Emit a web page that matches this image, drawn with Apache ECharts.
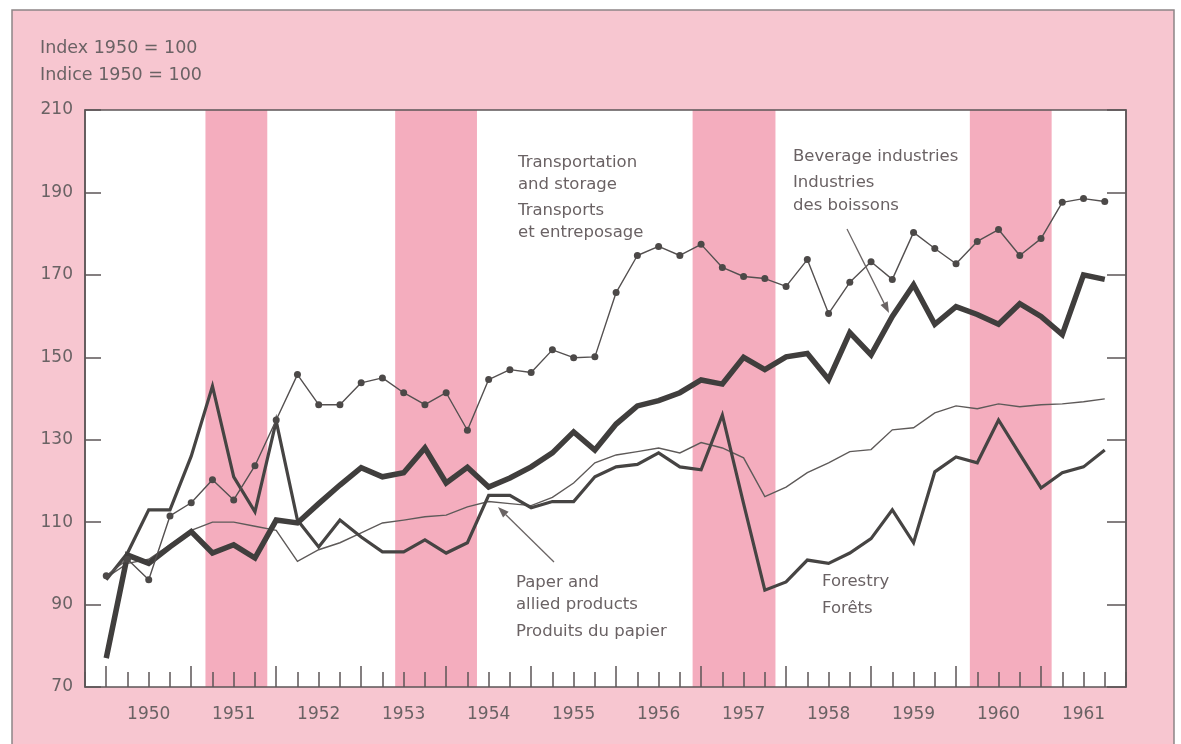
<!DOCTYPE html>
<html>
<head>
<meta charset="utf-8">
<script src="https://cdn.jsdelivr.net/npm/echarts@6/dist/echarts.min.js"></script>
<style>html,body{margin:0;padding:0;background:#fff}#c{width:1181px;height:744px}</style>
</head>
<body>
<div id="c"></div>
<script>
// ---- data (quarterly, 1950 Q1 .. 1961 Q4) ----
const years = [1950,1951,1952,1953,1954,1955,1956,1957,1958,1959,1960,1961];
const yTicks = [70,90,110,130,150,170,190,210];
const transport = [97,101,96,111.5,114.7,120.3,115.4,123.7,134.8,145.8,138.5,138.5,143.8,145,141.4,138.5,141.4,132.3,144.6,147,146.3,151.8,149.9,150.1,165.7,174.7,176.9,174.7,177.4,171.8,169.6,169.1,167.2,173.7,160.6,168.2,173.2,168.9,180.3,176.4,172.7,178.1,181,174.7,178.8,187.6,188.5,187.8];
const beverage = [77,102,100,104,107.7,102.5,104.5,101.3,110.5,109.8,114.5,119,123.2,121,122,128,119.5,123.3,118.5,120.7,123.4,126.8,131.9,127.5,133.8,138.2,139.5,141.4,144.5,143.5,150,147,150.1,150.9,144.6,156,150.6,159.9,167.6,158,162.3,160.4,158,163,159.9,155.5,170,168.9];
const paper = [96.5,100,101,104.5,108,110,110,109,108,100.5,103.3,105,107.4,109.8,110.5,111.3,111.7,113.7,115,114.5,114,116,119.5,124.4,126.3,127.1,128,126.8,129.3,128,125.6,116.2,118.5,122,124.4,127.1,127.6,132.4,132.9,136.5,138.2,137.5,138.7,138,138.5,138.7,139.2,139.9];
const forestry = [96,102.5,113,113,126,143,121,112.5,134.5,110.5,104,110.5,106.4,102.8,102.8,105.7,102.5,105,116.5,116.5,113.5,115,115,121,123.4,124,126.8,123.4,122.7,136,114.5,93.5,95.5,100.8,100,102.5,106,113,105,122.2,125.8,124.4,134.8,126.5,118.3,122,123.4,127.5];
// recession bands, in quarter index units (0 = 1950 Q1)
const recessions = [[4.67,7.58],[13.6,17.45],[27.6,31.5],[40.65,44.5]];

const pairs = arr => arr.map((v,i)=>[i,v]);
// category axis for year labels / year ticks: pad, 4 quarters per year, pad
const cats = [''];
years.forEach(y=>{for(let q=0;q<4;q++) cats.push(String(y));});
cats.push('');

const TXT = '#6a6264', LINE = '#464443', AX = '#5c5657';
const FONT = 'DejaVu Sans';
const PINK = '#f7c6d0', BAND = '#f4adbe';

function txt(x,y,s,size){return {type:'text',x:x,y:y,z:20,style:{text:s,fill:TXT,font:(size||16.5)+'px "'+FONT+'"',textVerticalAlign:'middle'}};}
function arrow(x1,y1,x2,y2){
  const a=Math.atan2(y2-y1,x2-x1), L=11, W=4;
  const bx=x2-L*Math.cos(a), by=y2-L*Math.sin(a);
  return [
    {type:'line',z:20,shape:{x1:x1,y1:y1,x2:bx,y2:by},style:{stroke:'#6a6464',lineWidth:1.3}},
    {type:'polygon',z:20,shape:{points:[[x2,y2],[bx-W*Math.sin(a),by+W*Math.cos(a)],[bx+W*Math.sin(a),by-W*Math.cos(a)]]},style:{fill:'#6a6464'}}
  ];
}

const chart = echarts.init(document.getElementById('c'),null,{renderer:'canvas'});
const grid = {left:85,right:55,top:110,bottom:57};
chart.setOption({
  backgroundColor:'#ffffff',
  animation:false,
  textStyle:{fontFamily:FONT},
  graphic:[
    {type:'rect',z:-100,shape:{x:12,y:10,width:1162,height:760},style:{fill:PINK,stroke:'#8d8587',lineWidth:1.5}},
    txt(40,48,'Index 1950 = 100',17.5),
    txt(40,75,'Indice 1950 = 100',17.5),
    txt(518,163,'Transportation'),txt(518,185,'and storage'),
    txt(518,211,'Transports'),txt(518,233,'et entreposage'),
    txt(793,157,'Beverage industries'),txt(793,183,'Industries'),txt(793,206,'des boissons'),
    txt(516,583,'Paper and'),txt(516,605,'allied products'),txt(516,632,'Produits du papier'),
    txt(822,582,'Forestry'),txt(822,609,'Forêts'),
    ...arrow(554,562,498,507),
    ...arrow(847,229,889,313)
  ],
  grid:[
    Object.assign({show:true,backgroundColor:'#ffffff',borderWidth:0,z:0},grid),
    Object.assign({show:true,backgroundColor:'transparent',borderColor:AX,borderWidth:1.5,z:10},grid)
  ],
  xAxis:[
    {type:'value',gridIndex:0,min:-1,max:48,interval:1,z:10,
     axisLine:{show:false,onZero:false},splitLine:{show:false},axisLabel:{show:false},
     axisTick:{show:true,inside:true,length:15,lineStyle:{color:AX,width:1.5}}},
    {type:'category',gridIndex:1,data:cats,boundaryGap:false,z:10,position:'bottom',
     axisLine:{show:false,onZero:false},splitLine:{show:false},
     axisTick:{show:true,inside:true,length:21,lineStyle:{color:AX,width:1.5},
       interval:(i)=> i>=1 && i<=45 && (i-1)%4===0},
     axisLabel:{show:true,color:TXT,fontSize:17,fontFamily:FONT,margin:19,
       interval:(i)=> i>=1 && i<=47 && (i-1)%4===2}}
  ],
  yAxis:[
    {type:'value',gridIndex:0,min:70,max:210,interval:20,position:'left',z:10,
     axisLine:{show:true,onZero:false,lineStyle:{color:AX,width:1.5}},splitLine:{show:false},
     axisTick:{show:true,inside:true,length:16,lineStyle:{color:AX,width:1.5}},
     axisLabel:{color:TXT,fontSize:17,fontFamily:FONT,margin:12}},
    {type:'value',gridIndex:0,min:70,max:210,interval:20,position:'right',z:10,
     axisLine:{show:true,onZero:false,lineStyle:{color:AX,width:1.5}},splitLine:{show:false},
     axisTick:{show:true,inside:true,length:19,lineStyle:{color:AX,width:1.5}},
     axisLabel:{show:false}},
    {type:'value',gridIndex:1,min:70,max:210,show:false}
  ],
  series:[
    {type:'line',xAxisIndex:0,yAxisIndex:0,data:[],z:1,silent:true,
     markArea:{silent:true,itemStyle:{color:BAND,opacity:1},
       data:recessions.map(r=>[{xAxis:r[0]},{xAxis:r[1]}])}},
    {name:'Paper',type:'line',xAxisIndex:0,yAxisIndex:0,data:pairs(paper),z:3,
     showSymbol:false,lineStyle:{color:'#5e5a59',width:1.4,join:'miter'}},
    {name:'Forestry',type:'line',xAxisIndex:0,yAxisIndex:0,data:pairs(forestry),z:3,
     showSymbol:false,lineStyle:{color:LINE,width:3.2,join:'miter'}},
    {name:'Beverage',type:'line',xAxisIndex:0,yAxisIndex:0,data:pairs(beverage),z:3,
     showSymbol:false,lineStyle:{color:'#403e3d',width:5.5,join:'miter'}},
    {name:'Transport',type:'line',xAxisIndex:0,yAxisIndex:0,data:pairs(transport),z:4,
     symbol:'circle',symbolSize:7,showSymbol:true,
     itemStyle:{color:'#4c4948'},lineStyle:{color:'#545050',width:1.4}}
  ]
});
</script>
</body>
</html>
